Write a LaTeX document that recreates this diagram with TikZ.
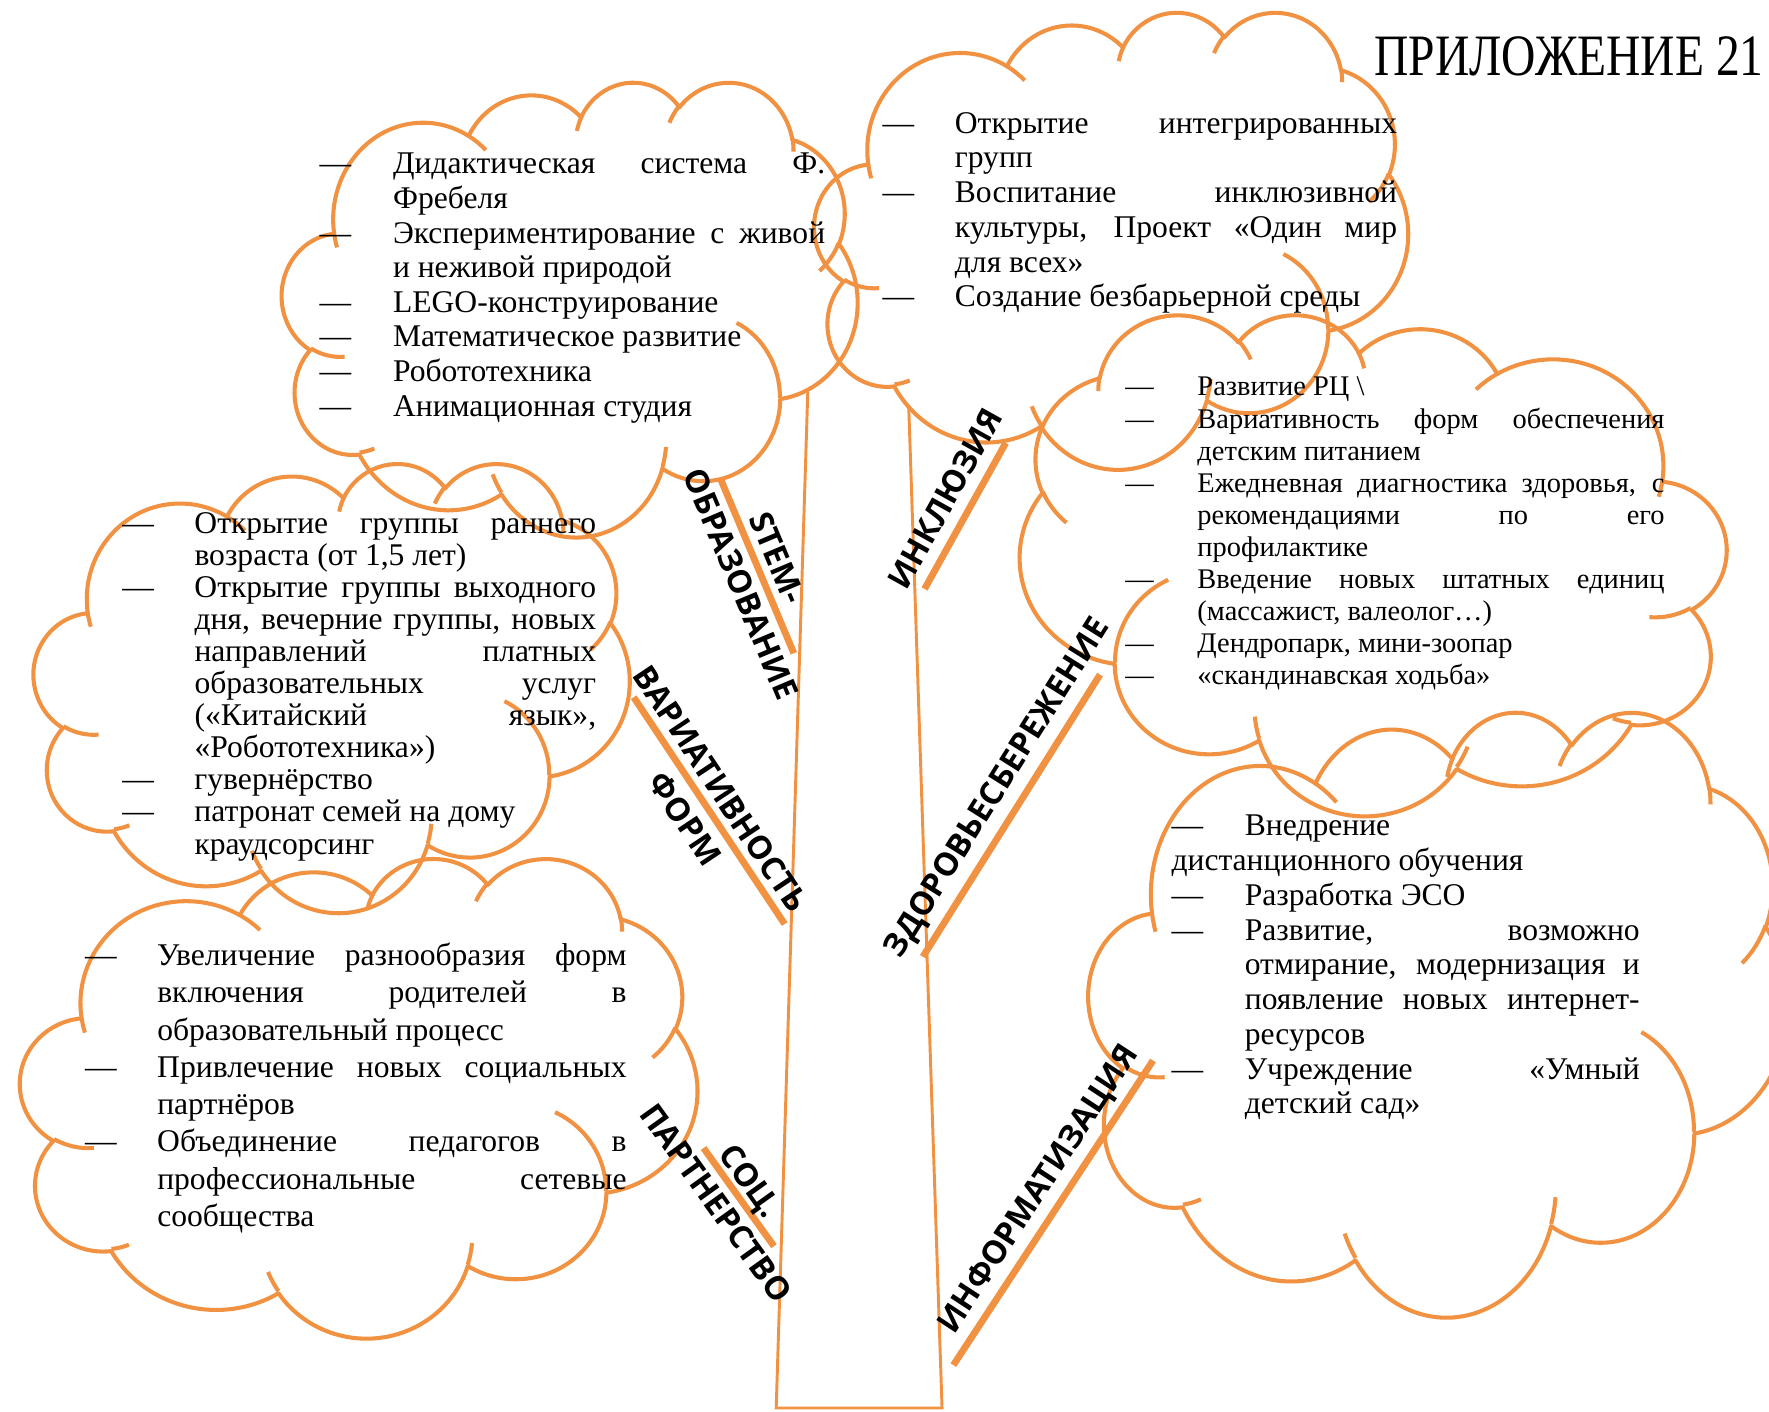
\documentclass[tikz,border=0pt]{standalone}
\usepackage{fontspec}
\setmainfont{Liberation Serif}
\newfontfamily\labfont{Open Sans}
\usetikzlibrary{calc}
\definecolor{orng}{RGB}{240,146,66}
\newlength\wqdash
\newcommand\wqJ[1]{\par\noindent\makebox[\linewidth][s]{#1}}
\newcommand\wqL[1]{\par\noindent\makebox[\linewidth][l]{#1}}
\newcommand\wqDJ[1]{\par\noindent\llap{\makebox[\wqdash][l]{—}}\makebox[\linewidth][s]{#1}}
\newcommand\wqDL[1]{\par\noindent\llap{\makebox[\wqdash][l]{—}}\makebox[\linewidth][l]{#1}}
\newcommand\wqpre[5]{%
  \pgfmathsetmacro\wqtA{atan2((#2)*sin(#4),(#3)*cos(#4))}%
  \pgfmathsetmacro\wqtB{atan2((#2)*sin(#4+#5),(#3)*cos(#4+#5))}%
  \pgfmathsetmacro\wqtD{mod(\wqtB-\wqtA+720,360)}%
  \expandafter\xdef\csname wqs#1\endcsname{\wqtA}%
  \expandafter\xdef\csname wqd#1\endcsname{\wqtD}%
  \expandafter\xdef\csname wqx#1\endcsname{#2}%
  \expandafter\xdef\csname wqy#1\endcsname{#3}}
\newcommand\wqcloud[4]{%
 \begin{scope}[shift={(#1,#2)},xscale=#3/100,yscale=#4/100]
  \draw[cloudline] (9.0278,33.2639)
   arc[x radius=\wqxA,y radius=\wqyA,start angle=\wqsA,delta angle=\wqdA]
   arc[x radius=\wqxB,y radius=\wqyB,start angle=\wqsB,delta angle=\wqdB]
   arc[x radius=\wqxC,y radius=\wqyC,start angle=\wqsC,delta angle=\wqdC]
   arc[x radius=\wqxD,y radius=\wqyD,start angle=\wqsD,delta angle=\wqdD]
   arc[x radius=\wqxE,y radius=\wqyE,start angle=\wqsE,delta angle=\wqdE]
   arc[x radius=\wqxF,y radius=\wqyF,start angle=\wqsF,delta angle=\wqdF]
   arc[x radius=\wqxG,y radius=\wqyG,start angle=\wqsG,delta angle=\wqdG]
   arc[x radius=\wqxH,y radius=\wqyH,start angle=\wqsH,delta angle=\wqdH]
   arc[x radius=\wqxI,y radius=\wqyI,start angle=\wqsI,delta angle=\wqdI]
   arc[x radius=\wqxJ,y radius=\wqyJ,start angle=\wqsJ,delta angle=\wqdJ]
   arc[x radius=\wqxK,y radius=\wqyK,start angle=\wqsK,delta angle=\wqdK] -- cycle;
  \draw[cloudline]
   (10.863,60.595) arc[x radius=\wqxL,y radius=\wqyL,start angle=\wqsL,delta angle=\wqdL]
   (16.037,80.785) arc[x radius=\wqxM,y radius=\wqyM,start angle=\wqsM,delta angle=\wqdM]
   (38.144,90.486) arc[x radius=\wqxN,y radius=\wqyN,start angle=\wqsN,delta angle=\wqdN]
   (66.729,80.442) arc[x radius=\wqxO,y radius=\wqyO,start angle=\wqsO,delta angle=\wqdO]
   (79.002,53.134) arc[x radius=\wqxP,y radius=\wqyP,start angle=\wqsP,delta angle=\wqdP]
   (96.755,35.542) arc[x radius=\wqxQ,y radius=\wqyQ,start angle=\wqsQ,delta angle=\wqdQ]
   (88.713,12.560) arc[x radius=\wqxR,y radius=\wqyR,start angle=\wqsR,delta angle=\wqdR]
   (67.310,9.148) arc[x radius=\wqxS,y radius=\wqyS,start angle=\wqsS,delta angle=\wqdS]
   (51.252,10.926) arc[x radius=\wqxT,y radius=\wqyT,start angle=\wqsT,delta angle=\wqdT]
   (32.407,12.019) arc[x radius=\wqxU,y radius=\wqyU,start angle=\wqsU,delta angle=\wqdU]
   (9.553,36.549) arc[x radius=\wqxV,y radius=\wqyV,start angle=\wqsV,delta angle=\wqdV];
 \end{scope}}
\begin{document}
\begin{tikzpicture}[x=0.5pt,y=-0.5pt,
  cloudline/.style={draw=orng,line width=1.8pt,line join=round},
  trunkline/.style={draw=orng,line width=1.3pt},
  branchline/.style={draw=orng,line width=3pt},
  lbl/.style={font=\labfont\bfseries\fontsize{14.3pt}{17pt}\selectfont,inner sep=0pt,text height=10.3pt,text depth=0pt,sloped},
  txtblock/.style={inner sep=0pt,anchor=base west}]
\useasboundingbox[fill=white] (0,0) rectangle (1568,1251);
\wqpre{A}{15.632}{21.273}{-190.4875}{123.7805}
\wqpre{B}{12.345}{16.822}{-144.1024}{89.9452}
\wqpre{C}{10.104}{13.762}{-145.8079}{99.7230}
\wqpre{D}{11.243}{15.266}{-130.9861}{117.2417}
\wqpre{E}{12.345}{16.836}{-78.7089}{109.0269}
\wqpre{F}{15.683}{21.343}{-46.2673}{130.2690}
\wqpre{G}{13.391}{18.211}{0.6250}{114.0333}
\wqpre{H}{15.630}{21.331}{22.4516}{115.1726}
\wqpre{I}{17.870}{24.405}{66.2426}{75.7110}
\wqpre{J}{10.093}{13.699}{-274.9421}{146.7356}
\wqpre{K}{10.058}{13.762}{-246.8285}{152.5189}
\wqpre{L}{10.058}{13.762}{86.7420}{26.4295}
\wqpre{M}{10.093}{13.699}{73.6105}{11.4475}
\wqpre{N}{15.630}{21.331}{137.6242}{14.0811}
\wqpre{O}{15.630}{21.331}{6.4533}{15.9984}
\wqpre{P}{13.391}{18.211}{-70.2924}{70.9174}
\wqpre{Q}{12.345}{16.836}{30.3180}{27.7515}
\wqpre{R}{11.243}{15.266}{-13.7443}{14.8589}
\wqpre{S}{11.243}{15.266}{-149.1815}{18.1954}
\wqpre{T}{10.104}{13.762}{-163.4943}{17.6864}
\wqpre{U}{15.632}{21.273}{-66.7070}{12.3194}
\wqpre{V}{15.632}{21.273}{157.6544}{11.8582}
% clouds
\wqcloud{250}{72}{510}{403}
\wqcloud{722}{10}{526}{405}
\wqcloud{1530}{278}{-626}{444}
\wqcloud{30}{410}{528}{398}
\wqcloud{18}{760}{600}{425}
\wqcloud{965}{630}{620}{536}
% trunk
\coordinate (tl) at (716,347);
\coordinate (tr) at (805.5,361);
\coordinate (bl) at (688,1248);
\coordinate (br) at (835,1248);
\draw[trunkline] (tl) -- (bl) -- (br) -- (tr);
% branches
\coordinate (s1) at (638.7,424.6); \coordinate (s2) at (703.6,579);
\draw[branchline] (s1) -- node[lbl,pos=0.50,above=3.1pt] (lstemA) {STEM-}
  node[lbl,pos=0.555,below=3.05pt] (lstemB) {ОБРАЗОВАНИЕ} (s2);
\coordinate (v1) at (561.7,618); \coordinate (v2) at (695.5,819);
\draw[branchline] (v1) -- node[lbl,pos=0.457,above=3.05pt] (lvarA) {ВАРИАТИВНОСТЬ}
  node[lbl,pos=0.476,below=4.3pt] (lvarB) {ФОРМ} (v2);
\coordinate (p1) at (623.6,1017.6); \coordinate (p2) at (686,1104.6);
\draw[branchline] (p1) -- node[lbl,pos=0.446,above=1.85pt] (lsocA) {СОЦ.}
  node[lbl,pos=0.43,below=2.8pt] (lsocB) {ПАРТНЕРСТВО} (p2);
\coordinate (i1) at (819.5,522); \coordinate (i2) at (891.4,392.7);
\draw[branchline] (i1) -- node[lbl,pos=0.535,above=4.85pt] (linc) {ИНКЛЮЗИЯ} (i2);
\coordinate (z1) at (818,848); \coordinate (z2) at (975,598);
\draw[branchline] (z1) -- node[lbl,pos=0.548,above=6.1pt] (lzdo) {ЗДОРОВЬЕСБЕРЕЖЕНИЕ} (z2);
\coordinate (f1) at (845,1210); \coordinate (f2) at (1022,940);
\draw[branchline] (f1) -- node[lbl,pos=0.531,above=5.35pt] (linf) {ИНФОРМАТИЗАЦИЯ} (f2);
% title
\node[txtblock] (title) at (1218,67) {\scalebox{0.81}[1]{\fontsize{26pt}{28pt}\selectfont ПРИЛОЖЕНИЕ 21}};
% text blocks
\node[txtblock] (tstem) at (348,154) {\parbox[t]{191.5pt}{\setlength\wqdash{32.5pt}\fontsize{14pt}{15.35pt}\selectfont
\wqDJ{Дидактическая система Ф.}
\wqL{Фребеля}
\wqDJ{Экспериментирование с живой}
\wqL{и неживой природой}
\wqDL{LEGO-конструирование}
\wqDL{Математическое развитие}
\wqDL{Робототехника}
\wqDL{Анимационная студия}}};
\node[txtblock] (tinc) at (846,118) {\parbox[t]{196pt}{\setlength\wqdash{32pt}\fontsize{14pt}{15.4pt}\selectfont
\wqDJ{Открытие интегрированных}
\wqL{групп}
\wqDJ{Воспитание инклюзивной}
\wqJ{культуры, Проект «Один мир}
\wqL{для всех»}
\wqDL{Создание безбарьерной среды}}};
\node[txtblock] (thea) at (1061,351) {\parbox[t]{207pt}{\setlength\wqdash{32pt}\fontsize{12.6pt}{14.2pt}\selectfont
\wqDL{Развитие РЦ \textbackslash}
\wqDJ{Вариативность форм обеспечения}
\wqL{детским питанием}
\wqDJ{Ежедневная диагностика здоровья, с}
\wqJ{рекомендациями по его}
\wqL{профилактике}
\wqDJ{Введение новых штатных единиц}
\wqL{(массажист, валеолог…)}
\wqDL{Дендропарк, мини-зоопар}
\wqDL{«скандинавская ходьба»}}};
\node[txtblock] (tvar) at (172,473) {\parbox[t]{178pt}{\setlength\wqdash{32pt}\fontsize{14pt}{14.2pt}\selectfont
\wqDJ{Открытие группы раннего}
\wqL{возраста (от 1,5 лет)}
\wqDJ{Открытие группы выходного}
\wqJ{дня, вечерние группы, новых}
\wqJ{направлений платных}
\wqJ{образовательных услуг}
\wqJ{(«Китайский язык»,}
\wqL{«Робототехника»)}
\wqDL{гувернёрство}
\wqDL{патронат семей на дому}
\wqL{краудсорсинг}}};
\node[txtblock] (tinf) at (1103,741) {\parbox[t]{175pt}{\setlength\wqdash{32.5pt}\fontsize{14pt}{15.4pt}\selectfont
\wqDL{Внедрение}
\par\noindent\hspace*{-32.5pt}дистанционного обучения
\wqDL{Разработка ЭСО}
\wqDJ{Развитие, возможно}
\wqJ{отмирание, модернизация и}
\wqJ{появление новых интернет-}
\wqL{ресурсов}
\wqDJ{Учреждение «Умный}
\wqL{детский сад»}}};
\node[txtblock] (tsoc) at (139,856) {\parbox[t]{208pt}{\setlength\wqdash{32pt}\fontsize{14pt}{16.5pt}\selectfont
\wqDJ{Увеличение разнообразия форм}
\wqJ{включения родителей в}
\wqL{образовательный процесс}
\wqDJ{Привлечение новых социальных}
\wqL{партнёров}
\wqDJ{Объединение педагогов в}
\wqJ{профессиональные сетевые}
\wqL{сообщества}}};
\end{tikzpicture}
\end{document}
